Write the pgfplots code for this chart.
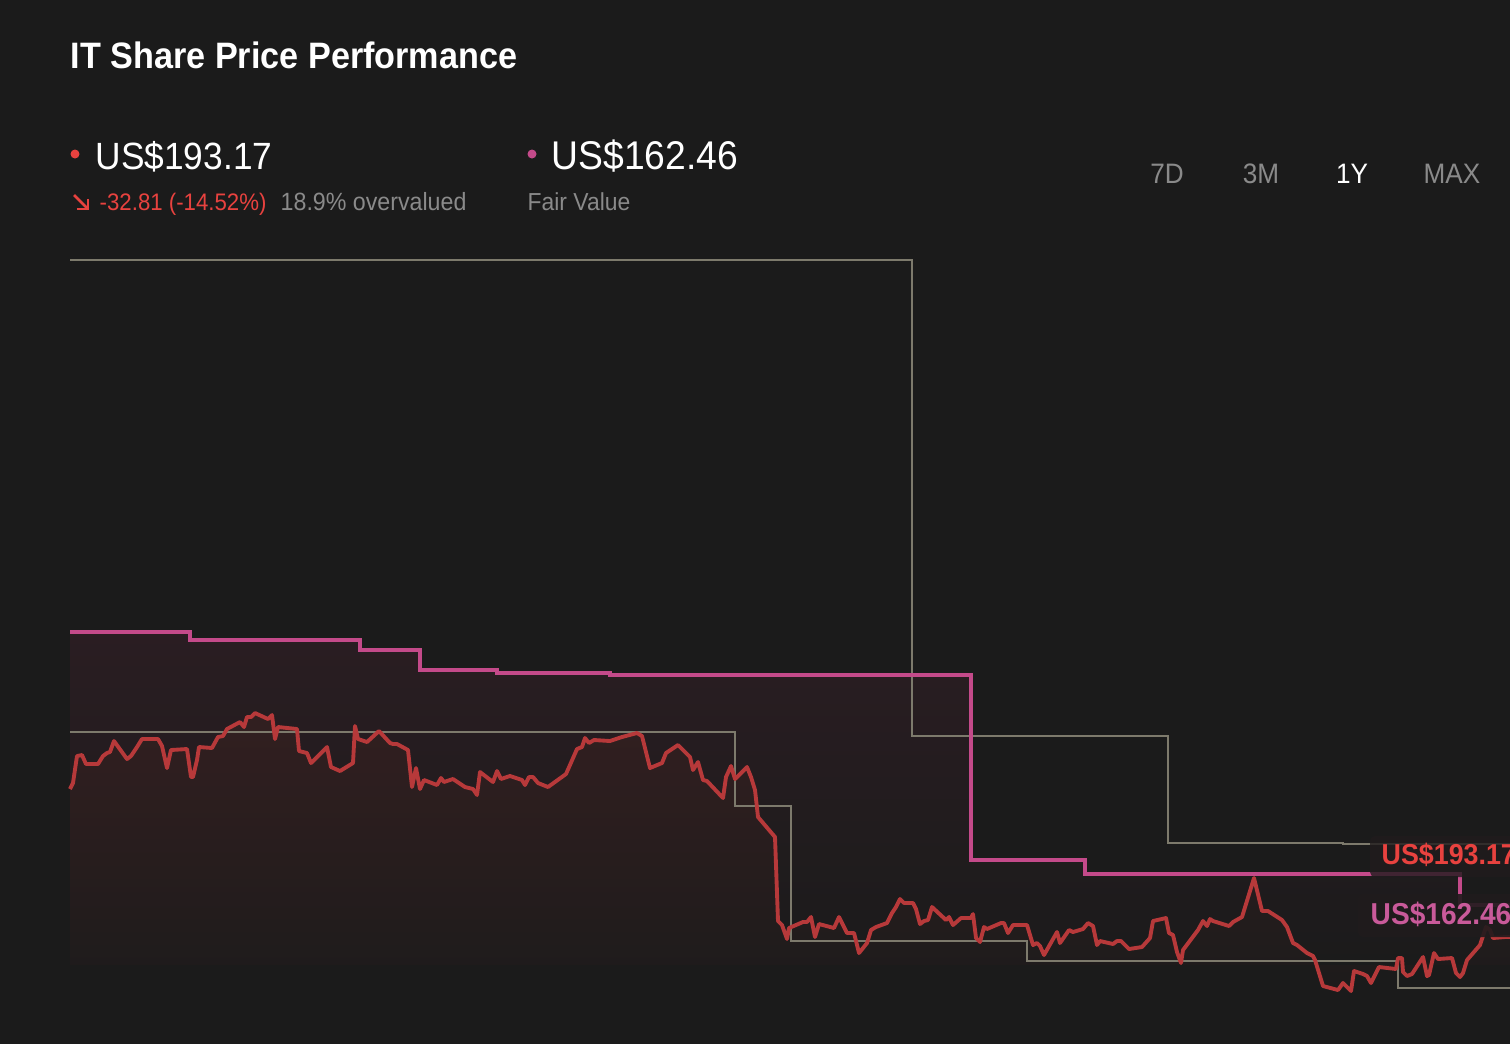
\documentclass[border=0pt]{standalone}
\usepackage{pgfplots}
\pgfplotsset{compat=1.18}
\usepackage{pgfplotstable}
\usepackage{fontspec}
\setmainfont{Liberation Sans}[FakeStretch=0.93]
\definecolor{bg}{RGB}{27,27,27}
\definecolor{pricered}{RGB}{183,57,58}
\definecolor{fvmag}{RGB}{196,74,138}
\definecolor{greyline}{RGB}{125,122,108}
\definecolor{txtred}{RGB}{232,66,63}
\definecolor{txtgrey}{RGB}{138,138,138}
\definecolor{lblmag}{RGB}{201,90,154}
\definecolor{boxcol}{RGB}{32,27,29}

\pgfplotstableread{
x y
70 789
73 783
77 756
82 755
86 764
98 764
103 756
107 753
110 752
114 741
127 759
131 756
137 747
142 739
158 739
162 746
167 768
171 750
187 749
191 777
193 777
197 760
199 747
212 748
218 737
223 736
227 729
240 722
244 727
247 717
251 717
255 713
268 719
272 715
275 739
278 727
297 729
299 751
307 753
311 763
327 747
331 767
340 771
353 763
355 726
358 739
367 742
379 731
390 743
393 744
397 744
408 750
412 787
416 768
420 789
424 780
437 785
441 778
444 782
453 779
465 787
473 789
477 795
480 772
493 782
497 771
501 779
510 776
522 780
525 785
529 777
533 777
538 783
548 787
566 774
577 749
582 747
585 738
589 743
594 740
610 741
622 737
637 733
642 736
650 768
662 763
666 753
678 745
690 757
693 770
698 762
703 780
707 781
723 798
726 777
731 766
735 779
747 767
751 777
755 790
758 817
775 837
778 921
782 925
787 939
789 928
803 922
807 922
811 917
815 937
819 924
834 928
839 917
847 933
854 933
859 953
867 943
871 930
876 927
887 923
892 913
896 907
900 899
904 903
913 903
916 909
920 924
924 921
928 920
932 907
946 920
949 917
953 925
961 918
971 918
973 914
976 938
980 942
984 927
987 929
1001 923
1004 923
1008 933
1013 925
1027 925
1033 945
1037 943
1040 946
1044 955
1057 932
1060 943
1069 930
1073 932
1083 929
1088 923
1093 926
1097 945
1100 941
1113 944
1117 941
1121 941
1129 949
1142 947
1150 938
1153 921
1166 918
1169 933
1173 935
1177 952
1181 963
1183 950
1198 930
1203 921
1207 926
1210 919
1213 921
1229 926
1233 922
1242 917
1254 878
1262 911
1268 911
1282 920
1287 927
1293 943
1297 945
1307 953
1313 956
1315 960
1323 986
1338 990
1343 983
1346 986
1351 991
1354 971
1363 974
1367 976
1371 983
1379 967
1396 969
1398 958
1402 958
1403 972
1407 976
1412 974
1423 957
1427 976
1429 975
1434 953
1438 959
1452 958
1456 973
1460 977
1463 973
1467 960
1480 945
1486 927
1490 930
1493 938
1505 937
1510 937
}\pricedata

\pgfplotstableread{
x y
70 632
190 632
190 640
360 640
360 650
420 650
420 670
497 670
497 673
610 673
610 675
971 675
971 860
1085 860
1085 874
1460 874
1460 905
1510 905
}\fairdata

\begin{document}
\begin{tikzpicture}
\useasboundingbox (0,0) rectangle (15.1cm,10.44cm);
\fill[bg] (0,0) rectangle (15.1cm,10.44cm);
\begin{axis}[at={(0,0)}, anchor=south west, width=15.1cm, height=10.44cm,
  scale only axis, xmin=0, xmax=1510, ymin=0, ymax=1044, y dir=reverse,
  hide axis, clip=false]
% fills
\addplot[draw=none, top color={rgb,255:red,42;green,29;blue,34}, middle color={rgb,255:red,30;green,27;blue,28}, bottom color={rgb,255:red,27;green,27;blue,27}]
  table {\fairdata} -- (axis cs:1510,965) -- (axis cs:70,965) -- cycle;
\addplot[draw=none, top color={rgb,255:red,50;green,31;blue,32}, middle color={rgb,255:red,44;green,30;blue,30}, bottom color={rgb,255:red,29;green,27;blue,27}]
  table {\pricedata} -- (axis cs:1510,965) -- (axis cs:70,965) -- cycle;
% grey step lines
\addplot[greyline, line width=0.5pt] coordinates {(70,260)(912,260)(912,736)(1168,736)(1168,843)(1343,843)(1343,844)(1510,844)};
\addplot[greyline, line width=0.5pt] coordinates {(70,732)(735,732)(735,806)(791,806)(791,941)(1027,941)(1027,961)(1398,961)(1398,988)(1510,988)};
% fair value
\addplot[fvmag, line width=0.95pt] table {\fairdata};
% price
\addplot[pricered, line width=1.1pt, line join=round] table {\pricedata};

% header texts
\node[anchor=base west, inner sep=0pt, text=white, font=\fontsize{10.46pt}{12pt}\selectfont\bfseries] at (axis cs:70,68) {IT Share Price Performance};
\fill[txtred] (axis cs:75,154) circle[radius=0.045cm];
\node[anchor=base west, inner sep=0pt, text=white, font=\fontsize{10.8pt}{12pt}\selectfont] at (axis cs:95,169) {US\$193.17};
\fill[fvmag] (axis cs:532,154) circle[radius=0.045cm];
\node[anchor=base west, inner sep=0pt, text=white, font=\fontsize{11.4pt}{12pt}\selectfont] at (axis cs:551,169) {US\$162.46};
\draw[txtred, line width=0.75pt] (axis cs:74,195) -- (axis cs:88,209);
\draw[txtred, line width=0.75pt, line join=miter] (axis cs:88,199) -- (axis cs:88,209) -- (axis cs:77,209);
\node[anchor=base west, inner sep=0pt, text=txtred, font=\fontsize{6.8pt}{8pt}\selectfont] at (axis cs:99,210) {-32.81 (-14.52\%)};
\node[anchor=base west, inner sep=0pt, text=txtgrey, font=\fontsize{7.1pt}{8pt}\selectfont] at (axis cs:280,210) {18.9\% overvalued};
\node[anchor=base west, inner sep=0pt, text=txtgrey, font=\fontsize{7pt}{8pt}\selectfont] at (axis cs:527,210) {Fair Value};
% period buttons
\node[anchor=base, inner sep=0pt, text=txtgrey, font=\fontsize{8pt}{9pt}\selectfont] at (axis cs:1167,183) {7D};
\node[anchor=base, inner sep=0pt, text=txtgrey, font=\fontsize{8pt}{9pt}\selectfont] at (axis cs:1261,183) {3M};
\node[anchor=base, inner sep=0pt, text=white, font=\fontsize{8pt}{9pt}\selectfont] at (axis cs:1352,183) {1Y};
\node[anchor=base, inner sep=0pt, text=txtgrey, font=\fontsize{8pt}{9pt}\selectfont] at (axis cs:1452,183) {MAX};
% end labels
\fill[boxcol, fill opacity=0.8, rounded corners=0.05cm] (axis cs:1370,836) rectangle (axis cs:1540,877);
\node[anchor=base west, inner sep=0pt, text=txtred, font=\fontsize{8.2pt}{9pt}\selectfont\bfseries] at (axis cs:1381,864) {US\$193.17};
\fill[boxcol, fill opacity=0.9, rounded corners=0.05cm] (axis cs:1358,894) rectangle (axis cs:1540,937);
\node[anchor=base west, inner sep=0pt, text=lblmag, font=\fontsize{8.6pt}{9pt}\selectfont\bfseries] at (axis cs:1370,924) {US\$162.46};
\end{axis}
\end{tikzpicture}
\end{document}
